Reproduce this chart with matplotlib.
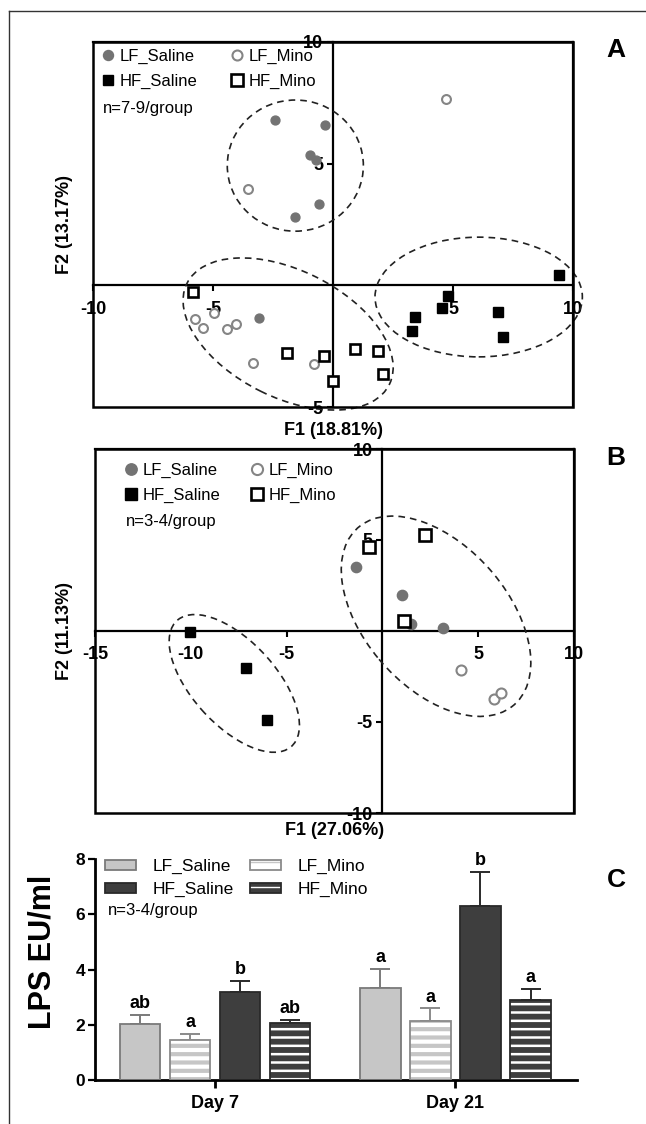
import numpy as np
import matplotlib
matplotlib.use('Agg')
import matplotlib.pyplot as plt
from matplotlib.patches import Ellipse, Rectangle
from matplotlib.lines import Line2D
from matplotlib.legend_handler import HandlerTuple

plt.rcParams['font.family'] = ['Liberation Sans', 'DejaVu Sans']

groups = ['LF_Saline', 'LF_Mino', 'HF_Saline', 'HF_Mino']

# panel A: PCA scores (F1, F2)
a_lf_saline_x = [-2.43, -0.35, -0.97, -0.69, -0.58, -1.60, -3.07]
a_lf_saline_y = [6.80, 6.58, 5.36, 5.16, 3.34, 2.82, -1.34]
a_lf_mino_x = [4.71, -3.53, -4.96, -5.76, -5.42, -4.40, -4.03, -3.32, -0.78]
a_lf_mino_y = [7.66, 3.97, -1.14, -1.38, -1.76, -1.78, -1.57, -3.21, -3.24]
a_hf_saline_x = [9.43, 4.79, 4.53, 3.40, 3.28, 6.86, 7.08]
a_hf_saline_y = [0.42, -0.42, -0.94, -1.31, -1.87, -1.09, -2.13]
a_hf_mino_x = [-5.83, -1.90, -0.36, 0.93, 1.88, 2.08, 0.0]
a_hf_mino_y = [-0.29, -2.79, -2.91, -2.61, -2.68, -3.64, -3.93]
# ellipses: centre x, centre y, width, height, angle
a_ellipses = [(-1.57, 4.92, 5.67, 5.39, 0), (6.07, -0.48, 8.64, 4.92, 0),
              (-1.87, -2.00, 9.40, 5.23, -26)]

# panel B
b_lf_saline_x = [-1.37, 1.01, 1.48, 3.18]
b_lf_saline_y = [3.50, 1.96, 0.38, 0.15]
b_lf_mino_x = [4.12, 5.83, 6.17]
b_lf_mino_y = [-2.16, -3.74, -3.41]
b_hf_saline_x = [-10.02, -7.13, -6.0]
b_hf_saline_y = [-0.05, -2.05, -4.87]
b_hf_mino_x = [-0.68, 2.23, 1.15]
b_hf_mino_y = [4.60, 5.29, 0.53]
b_ellipses = [(-7.73, -2.88, 9.14, 4.47, -50), (2.80, 0.81, 12.7, 7.6, -51.5)]

# panel C: LPS
days = ['Day 7', 'Day 21']
day_pos = [0, 4.81]
lps_day7 = [2.02, 1.46, 3.17, 2.05]
lps_day7_err = [0.35, 0.22, 0.42, 0.14]
lps_day21 = [3.32, 2.14, 6.31, 2.88]
lps_day21_err = [0.69, 0.45, 1.23, 0.42]
letters_day7 = ['ab', 'a', 'b', 'ab']
letters_day21 = ['a', 'a', 'b', 'a']

W, H = 646, 1124
fig = plt.figure(figsize=(W / 100, H / 100), dpi=100)

# outer border (top + left)
fig.add_artist(Line2D([9 / W, 1], [1 - 11 / H, 1 - 11 / H], transform=fig.transFigure, color='#333333', lw=1))
fig.add_artist(Line2D([9 / W, 9 / W], [0, 1 - 11 / H], transform=fig.transFigure, color='#333333', lw=1))

marker_styles = {
    'LF_Saline': dict(marker='o', color='#737373', mfc='#737373', mec='#737373', mew=1.0),
    'LF_Mino': dict(marker='o', color='#858585', mfc='white', mec='#858585', mew=1.5),
    'HF_Saline': dict(marker='s', color='black', mfc='black', mec='black', mew=1.0),
    'HF_Mino': dict(marker='s', color='black', mfc='white', mec='black', mew=1.9),
}


def score_panel(ax, data, ellipses, xlim, ylim, xticks, yticks, xlabel, ylabel, ntext, ms,
                leg_anchor, colsp, ntext_xy, xlab_y, ylab_x):
    for g in groups:
        x, y = data[g]
        ax.plot(x, y, ls='none', ms=ms[g], zorder=4, clip_on=False, **marker_styles[g])
    for cx, cy, w, h, ang in ellipses:
        ax.add_patch(Ellipse((cx, cy), w, h, angle=ang, fill=False, ls=(0, (4, 3)),
                             lw=1.2, color='#222222', clip_on=False, zorder=3))
    ax.set_xlim(xlim)
    ax.set_ylim(ylim)
    ax.spines['left'].set_position(('data', 0))
    ax.spines['bottom'].set_position(('data', 0))
    for s in ax.spines.values():
        s.set_linewidth(1.6)
    ax.add_patch(Rectangle((0, 0), 1, 1, transform=ax.transAxes, fill=False, lw=1.8,
                           color='black', clip_on=False, zorder=5))
    ax.set_xticks(xticks)
    ax.set_yticks(yticks)
    ax.set_xticklabels([f'{t:g}' for t in xticks], fontweight='bold', fontsize=13)
    ax.set_yticklabels([f'{t:g}' for t in yticks], fontweight='bold', fontsize=13)
    ax.tick_params(axis='x', direction='out', length=4, width=1.5, pad=7)
    ax.tick_params(axis='y', direction='out', length=4, width=1.5, pad=3)
    ax.set_xlabel(xlabel, fontweight='bold', fontsize=13)
    ax.set_ylabel(ylabel, fontweight='bold', fontsize=13)
    ax.xaxis.set_label_coords(0.5, xlab_y)
    ax.yaxis.set_label_coords(ylab_x, 0.5)
    order = ['LF_Saline', 'HF_Saline', 'LF_Mino', 'HF_Mino']
    handles = [Line2D([], [], ls='none', ms=ms[g] + 0.8, **marker_styles[g]) for g in order]
    ax.legend(handles, order, ncol=2, frameon=False,
              loc='upper left', bbox_to_anchor=leg_anchor, borderaxespad=0, borderpad=0,
              fontsize=12, handlelength=1.0, handletextpad=0.2, columnspacing=colsp,
              labelspacing=0.6)
    ax.text(ntext_xy[0], ntext_xy[1], ntext, transform=ax.transAxes, fontsize=12,
            ha='left', va='center')


# ---- A
axA = fig.add_axes([93 / W, 1 - 407 / H, 480 / W, 365 / H])
dataA = {'LF_Saline': (a_lf_saline_x, a_lf_saline_y), 'LF_Mino': (a_lf_mino_x, a_lf_mino_y),
         'HF_Saline': (a_hf_saline_x, a_hf_saline_y), 'HF_Mino': (a_hf_mino_x, a_hf_mino_y)}
score_panel(axA, dataA, a_ellipses, (-10, 10), (-5, 10), [-10, -5, 5, 10], [-5, 5, 10],
            'F1 (18.81%)', 'F2 (13.17%)', 'n=7-9/group',
            {'LF_Saline': 6.4, 'LF_Mino': 6.4, 'HF_Saline': 7, 'HF_Mino': 7.4},
            (0.014, 0.982), 1.85, (0.021, 0.818), -0.041, -0.042)

# ---- B
axB = fig.add_axes([95 / W, 1 - 813 / H, 479 / W, 364 / H])
dataB = {'LF_Saline': (b_lf_saline_x, b_lf_saline_y), 'LF_Mino': (b_lf_mino_x, b_lf_mino_y),
         'HF_Saline': (b_hf_saline_x, b_hf_saline_y), 'HF_Mino': (b_hf_mino_x, b_hf_mino_y)}
score_panel(axB, dataB, b_ellipses, (-15, 10), (-10, 10), [-15, -10, -5, 5, 10], [-10, -5, 5, 10],
            'F1 (27.06%)', 'F2 (11.13%)', 'n=3-4/group',
            {'LF_Saline': 7.4, 'LF_Mino': 7.2, 'HF_Saline': 7.4, 'HF_Mino': 8},
            (0.058, 0.962), 1.7, (0.065, 0.802), -0.026, -0.046)

# ---- C
axC = fig.add_axes([95 / W, 1 - 1080 / H, 482 / W, 221 / H])
width = 0.813
offsets = np.array([-1.5, -0.5, 0.5, 1.5])
face = {'LF_Saline': '#c6c6c6', 'LF_Mino': 'white', 'HF_Saline': '#3e3e3e', 'HF_Mino': '#3e3e3e'}
hatchc = {'LF_Saline': None, 'LF_Mino': '#c6c6c6', 'HF_Saline': None, 'HF_Mino': 'white'}
hatchlw = {'LF_Mino': 3.0, 'HF_Mino': 1.8}
edge = {'LF_Saline': '#7a7a7a', 'LF_Mino': '#8a8a8a', 'HF_Saline': '#2a2a2a', 'HF_Mino': '#2a2a2a'}
vals = np.array([lps_day7, lps_day21])
errs = np.array([lps_day7_err, lps_day21_err])
letters = [letters_day7, letters_day21]
leg_handles = {}
for i, g in enumerate(groups):
    xs = np.array(day_pos) + offsets[i]
    b0 = axC.bar(xs, vals[:, i], width, color=face[g], lw=0, zorder=2)
    parts = [b0.patches[0]]
    if hatchc[g]:
        with plt.rc_context({'hatch.linewidth': hatchlw[g]}):
            bh = axC.bar(xs, vals[:, i], width, facecolor='none', edgecolor=hatchc[g],
                         hatch='--', lw=0, zorder=3)
        for p in bh.patches:
            if hasattr(p, 'set_hatch_linewidth'):
                p.set_hatch_linewidth(hatchlw[g])
        parts.append(bh.patches[0])
    bo = axC.bar(xs, vals[:, i], width, facecolor='none', edgecolor=edge[g], lw=1.3, zorder=4)
    parts.append(bo.patches[0])
    axC.errorbar(xs, vals[:, i], yerr=[np.zeros(2), errs[:, i]], fmt='none', ecolor=edge[g],
                 elinewidth=1.4, capsize=7, capthick=1.4, zorder=1)
    for k in range(2):
        axC.text(xs[k], vals[k, i] + errs[k, i] + 0.1, letters[k][i], ha='center', va='bottom',
                 fontsize=13, fontweight='bold')
    leg_handles[g] = tuple(parts)

axC.set_xlim(-2.4, 7.24)
axC.set_ylim(0, 8)
axC.set_yticks([0, 2, 4, 6, 8])
axC.set_yticklabels(['0', '2', '4', '6', '8'], fontweight='bold', fontsize=12.5)
axC.set_xticks(day_pos)
axC.set_xticklabels(days, fontweight='bold', fontsize=13)
axC.spines['top'].set_visible(False)
axC.spines['right'].set_visible(False)
axC.spines['left'].set_linewidth(2)
axC.spines['bottom'].set_linewidth(2)
axC.tick_params(axis='y', direction='out', length=5, width=1.6, pad=2)
axC.tick_params(axis='x', direction='out', length=6, width=2, pad=5)
axC.set_ylabel('LPS EU/ml', fontweight='bold', fontsize=22)
axC.yaxis.set_label_coords(-0.077, 0.58)
order = ['LF_Saline', 'HF_Saline', 'LF_Mino', 'HF_Mino']
axC.legend([leg_handles[g] for g in order], order,
           handler_map={tuple: HandlerTuple(ndivide=1, pad=0)},
           ncol=2, frameon=False, loc='upper left', bbox_to_anchor=(0.02, 1.0), borderaxespad=0,
           borderpad=0, fontsize=12.5, handlelength=1.8, handleheight=0.5, handletextpad=0.95,
           columnspacing=0.95, labelspacing=0.45)
axC.text(0.027, 0.765, 'n=3-4/group', transform=axC.transAxes, fontsize=12, ha='left', va='center')

# panel letters
for lab, ypx in [('A', 50), ('B', 458), ('C', 880)]:
    fig.text(616 / W, 1 - ypx / H, lab, fontsize=19, fontweight='bold', ha='center', va='center')

fig.savefig('out.png', dpi=100)
